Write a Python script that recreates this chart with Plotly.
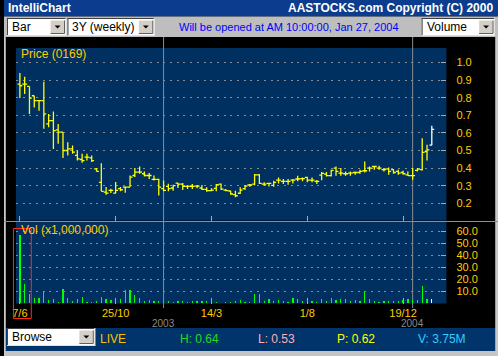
import plotly.graph_objects as go

W, H = 498, 356

# ---------------- data ----------------
weeks = list(range(87))
opens = [0.877, 0.877, 0.864, 0.811, 0.783, 0.783, 0.651, 0.670, 0.617, 0.604,
         0.500, 0.509, 0.472, 0.449, 0.462, 0.458, 0.396, 0.319, 0.264, 0.274,
         0.258, 0.283, 0.292, 0.292, 0.358, 0.377, 0.368, 0.358, 0.336, 0.336,
         0.283, 0.296, 0.287, 0.315, 0.309, 0.296, 0.296, 0.298, 0.287, 0.279,
         0.272, 0.285, 0.309, 0.275, 0.270, 0.249, 0.257, 0.283, 0.304, 0.309,
         0.362, 0.309, 0.313, 0.302, 0.332, 0.325, 0.325, 0.332, 0.338, 0.340,
         0.347, 0.332, 0.325, 0.360, 0.366, 0.357, 0.400, 0.372, 0.368, 0.372,
         0.375, 0.375, 0.385, 0.400, 0.409, 0.400, 0.391, 0.396, 0.391, 0.381,
         0.375, 0.362, 0.357, 0.387, 0.391, 0.494, 0.530]
highs = [0.940, 0.919, 0.864, 0.811, 0.783, 0.891, 0.708, 0.721, 0.651, 0.604,
         0.547, 0.528, 0.500, 0.481, 0.481, 0.472, 0.400, 0.428, 0.292, 0.283,
         0.321, 0.292, 0.296, 0.358, 0.400, 0.409, 0.381, 0.372, 0.358, 0.340,
         0.330, 0.311, 0.306, 0.317, 0.315, 0.304, 0.309, 0.304, 0.304, 0.291,
         0.285, 0.309, 0.313, 0.281, 0.272, 0.272, 0.291, 0.304, 0.309, 0.366,
         0.366, 0.319, 0.317, 0.328, 0.347, 0.338, 0.338, 0.338, 0.357, 0.347,
         0.351, 0.347, 0.332, 0.378, 0.378, 0.391, 0.409, 0.400, 0.381, 0.381,
         0.381, 0.391, 0.438, 0.409, 0.413, 0.413, 0.400, 0.404, 0.394, 0.391,
         0.385, 0.381, 0.400, 0.400, 0.570, 0.532, 0.640]
lows = [0.798, 0.821, 0.708, 0.745, 0.726, 0.623, 0.632, 0.509, 0.538, 0.458,
        0.472, 0.481, 0.443, 0.430, 0.443, 0.434, 0.381, 0.268, 0.249, 0.258,
        0.255, 0.268, 0.260, 0.292, 0.349, 0.368, 0.353, 0.338, 0.330, 0.245,
        0.268, 0.268, 0.272, 0.287, 0.275, 0.281, 0.281, 0.285, 0.275, 0.266,
        0.268, 0.268, 0.275, 0.268, 0.249, 0.234, 0.253, 0.275, 0.294, 0.302,
        0.309, 0.300, 0.296, 0.294, 0.313, 0.309, 0.306, 0.313, 0.325, 0.325,
        0.319, 0.319, 0.309, 0.331, 0.353, 0.353, 0.357, 0.357, 0.357, 0.357,
        0.362, 0.368, 0.375, 0.381, 0.391, 0.391, 0.381, 0.362, 0.368, 0.362,
        0.362, 0.357, 0.334, 0.381, 0.387, 0.443, 0.530]
closes = [0.868, 0.877, 0.798, 0.783, 0.783, 0.708, 0.670, 0.613, 0.604, 0.500,
          0.509, 0.491, 0.453, 0.443, 0.462, 0.443, 0.381, 0.268, 0.258, 0.274,
          0.274, 0.277, 0.292, 0.349, 0.377, 0.377, 0.358, 0.358, 0.336, 0.292,
          0.274, 0.283, 0.300, 0.309, 0.296, 0.296, 0.296, 0.298, 0.279, 0.272,
          0.275, 0.306, 0.281, 0.272, 0.253, 0.243, 0.275, 0.298, 0.304, 0.362,
          0.313, 0.309, 0.313, 0.319, 0.332, 0.325, 0.325, 0.332, 0.338, 0.340,
          0.332, 0.332, 0.325, 0.370, 0.357, 0.387, 0.381, 0.372, 0.368, 0.372,
          0.375, 0.381, 0.385, 0.400, 0.409, 0.400, 0.391, 0.381, 0.375, 0.372,
          0.368, 0.357, 0.357, 0.394, 0.489, 0.504, 0.620]
volumes = [56.6, 16.0, 7.7, 4.1, 4.7, 9.7, 3.0, 3.6, 1.4, 11.9,
           4.1, 1.9, 3.6, 5.5, 1.1, 0.8, 2.2, 5.5, 3.6, 2.8,
           2.5, 3.3, 10.8, 10.8, 6.9, 4.7, 1.9, 2.8, 1.9, 1.9,
           2.0, 1.9, 1.4, 1.9, 1.9, 1.4, 1.9, 2.2, 1.9, 2.2,
           1.5, 0.8, 0.6, 0.8, 0.8, 1.7, 2.5, 1.4, 1.4, 7.7,
           7.7, 1.9, 3.6, 2.2, 2.8, 1.9, 0.8, 4.1, 3.6, 2.2,
           2.0, 2.2, 0.8, 3.6, 1.9, 4.1, 2.8, 3.6, 3.6, 1.9,
           2.8, 2.2, 9.7, 3.6, 2.2, 0.8, 1.9, 1.9, 1.9, 1.9,
           2.5, 3.6, 2.8, 2.8, 14.4, 3.6, 3.75]
tick_weeks = [0, 20, 40, 60, 80]
tick_labels = ["7/6", "25/10", "14/3", "1/8", "19/12"]
year_weeks = [30, 82]
year_labels = ["2003", "2004"]
price_ticks = [0.2, 0.3, 0.4, 0.5, 0.6, 0.7, 0.8, 0.9, 1.0]
vol_ticks = [10, 20, 30, 40, 50, 60]

# ---------------- helpers ----------------
def X(px):
    return px / W

def Y(py):
    return 1 - py / H

FONT = "Liberation Sans, Arial, sans-serif"
ORANGE = "#FFCC00"
PANEL = "#003060"

shapes = []
annotations = []

def rect(x0, y0, x1, y1, fill, line=None, lw=0, layer="above"):
    shapes.append(dict(type="rect", xref="paper", yref="paper",
                       x0=X(x0), x1=X(x1), y0=Y(y1), y1=Y(y0),
                       fillcolor=fill, layer=layer,
                       line=dict(color=line or fill, width=lw)))

def hline(x0, x1, y, color, w=1, layer="above"):
    shapes.append(dict(type="line", xref="paper", yref="paper",
                       x0=X(x0), x1=X(x1), y0=Y(y), y1=Y(y), layer=layer,
                       line=dict(color=color, width=w)))

def vline(x, y0, y1, color, w=1):
    shapes.append(dict(type="line", xref="paper", yref="paper",
                       x0=X(x), x1=X(x), y0=Y(y0), y1=Y(y1),
                       line=dict(color=color, width=w)))

def text(x, y, s, color, size=12, bold=False, anchor="left"):
    if bold:
        s = "<b>" + s + "</b>"
    annotations.append(dict(x=X(x), y=Y(y), xref="paper", yref="paper", text=s,
                            showarrow=False, xanchor=anchor, yanchor="middle",
                            font=dict(family=FONT, size=size, color=color),
                            borderpad=0))

def dropdown(x0, y0, x1, y1, label):
    rect(x0, y0, x1, y1, "#FFFFFF")
    hline(x0, x1, y0 + 0.5, "#404040")
    vline(x0 + 0.5, y0, y1, "#404040")
    hline(x0, x1, y1 - 0.5, "#E0E0E0")
    vline(x1 - 0.5, y0, y1, "#E0E0E0")
    bx0, bx1 = x1 - 16, x1 - 2
    by0, by1 = y0 + 2.5, y1 - 2.5
    rect(bx0, by0, bx1, by1, "#D4D0C8")
    hline(bx0, bx1, by1, "#606060")
    vline(bx1, by0, by1, "#606060")
    cx, cy = (bx0 + bx1) / 2, (by0 + by1) / 2
    shapes.append(dict(type="path", xref="paper", yref="paper",
                       path=f"M {X(cx-3)},{Y(cy-1.5)} L {X(cx+3)},{Y(cy-1.5)} L {X(cx)},{Y(cy+1.5)} Z",
                       fillcolor="#000000", line=dict(color="#000000", width=0)))
    text(x0 + 4, (y0 + y1) / 2, label, "#000000", size=12)

# ---------------- window chrome ----------------
rect(0, 0, W, 16.5, "#0B3C8E")
text(3, 8.5, "IntelliChart", "#FFFFFF", size=12, bold=True)
text(494, 8.5, "AASTOCKS.com Copyright (C) 2000", "#FFFFFF", size=12, bold=True, anchor="right")
rect(0, 16.5, W, 37, "#BEBEBE")
dropdown(3, 18, 63, 36, "Bar")
dropdown(64, 18, 152, 36, "3Y (weekly)")
dropdown(421, 18, 495, 36, "Volume")
text(287, 27, "Will be opened at AM 10:00:00, Jan 27, 2004", "#0000FF", size=11, anchor="center")

# status bar
rect(0, 328, W, 351, "#00346A")
rect(0, 351, W, 356, "#C4C4C4")
dropdown(3, 328, 92, 346, "Browse")
text(96, 339, "LIVE", "#FFC000", size=12)
text(176, 339, "H: 0.64", "#22DD22", size=12)
text(255, 339, "L: 0.53", "#FFB0B8", size=12)
text(335, 339, "P: 0.62", "#FFFF00", size=12)
text(416, 339, "V: 3.75M", "#33CCFF", size=12)

# window side borders
rect(0, 37, 1.8, 356, "#C8C8C8")
rect(495.2, 37, W, 356, "#C8C8C8")

# panel separator and labels
hline(0, W, 221.5, "#A0A000")
text(16, 54.5, "Price (0169)", ORANGE, size=12)
text(16, 230, "Vol (x1,000,000)", ORANGE, size=12)
rect(9.5, 228.5, 27.5, 318.5, "rgba(0,0,0,0)", line="#FF2A1A", lw=1)

# year separator lines and labels
for wk, lab in zip(year_weeks, year_labels):
    shapes.append(dict(type="line", xref="x", yref="paper", x0=wk, x1=wk,
                       y0=Y(308), y1=Y(37), layer="below",
                       line=dict(color="#8C8C8C", width=1)))
    annotations.append(dict(x=wk, y=Y(323), xref="x", yref="paper", text=lab,
                            showarrow=False, xanchor="center", yanchor="middle",
                            font=dict(family=FONT, size=10, color="#8A8A8A"),
                            borderpad=0))

# ---------------- traces ----------------
fig = go.Figure()
fig.add_trace(go.Ohlc(x=weeks[:-1], open=opens[:-1], high=highs[:-1], low=lows[:-1],
                      close=closes[:-1], tickwidth=0.5,
                      increasing=dict(line=dict(color="#FFFF00", width=1.3)),
                      decreasing=dict(line=dict(color="#FFFF00", width=1.3)),
                      hoverinfo="skip", xaxis="x", yaxis="y", showlegend=False))
fig.add_trace(go.Ohlc(x=weeks[-1:], open=opens[-1:], high=highs[-1:], low=lows[-1:],
                      close=closes[-1:], tickwidth=0.5,
                      increasing=dict(line=dict(color="#FFFFFF", width=1.3)),
                      decreasing=dict(line=dict(color="#FFFFFF", width=1.3)),
                      hoverinfo="skip", xaxis="x", yaxis="y", showlegend=False))
bar_colors = ["#00FF00"] * (len(weeks) - 1) + ["#FFFFFF"]
fig.add_trace(go.Bar(x=weeks, y=volumes, width=0.27, marker=dict(color=bar_colors, line=dict(width=0)),
                     hoverinfo="skip", xaxis="x2", yaxis="y2", showlegend=False))

xr = [-0.83, 89.05]
grid = dict(showgrid=True, gridcolor="#8C8C8C", gridwidth=1, griddash="2px,4.7px",
            zeroline=False, showline=False, side="right", ticks="inside", ticklen=5,
            tickcolor="#A8A8A8", ticklabelstandoff=9,
            tickfont=dict(family=FONT, size=11, color=ORANGE))

fig.update_layout(
    width=W, height=H, margin=dict(l=0, r=0, t=0, b=0, pad=0),
    paper_bgcolor="#000000", plot_bgcolor=PANEL,
    showlegend=False, bargap=0,
    xaxis=dict(domain=[X(12), X(446)], range=xr, anchor="y", showgrid=False, zeroline=False,
               showline=False, tickvals=tick_weeks, ticktext=tick_labels, showticklabels=False,
               ticks="inside", ticklen=5, tickcolor="#A8A8A8", rangeslider=dict(visible=False)),
    yaxis=dict(domain=[Y(220.5), Y(48)], range=[0.1023, 1.0824], anchor="x",
               tickvals=price_ticks, tickformat=".1f", **grid),
    xaxis2=dict(domain=[X(12), X(446)], range=xr, anchor="y2", showgrid=False, zeroline=False,
                showline=False, tickvals=tick_weeks, ticktext=tick_labels,
                ticks="inside", ticklen=6, tickcolor="#A8A8A8", ticklabelstandoff=1,
                tickfont=dict(family=FONT, size=11, color=ORANGE)),
    yaxis2=dict(domain=[Y(303.5), Y(222)], range=[-0.17, 67.75], anchor="x2",
                tickvals=vol_ticks, tickformat=".1f", **grid),
    shapes=shapes, annotations=annotations,
)

fig.write_html("out.html", config={"displayModeBar": False, "staticPlot": True})
